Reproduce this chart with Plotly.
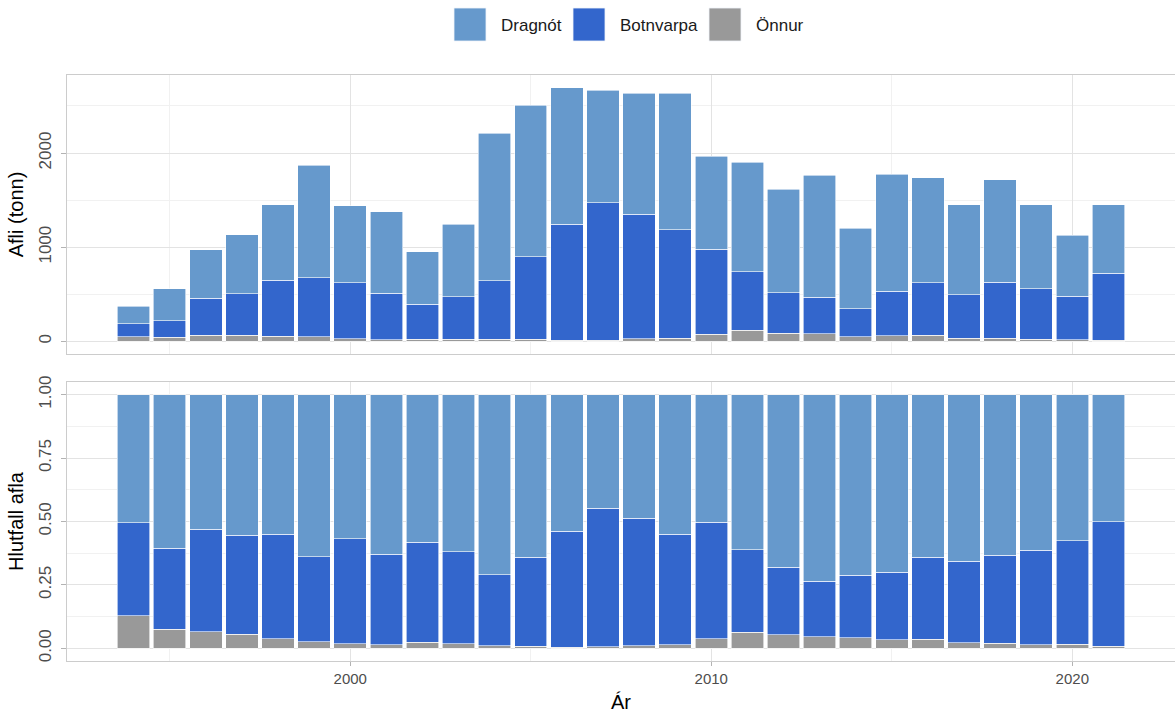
import plotly.graph_objects as go
from plotly.subplots import make_subplots

years = list(range(1994, 2022))
dragnot = [188, 337, 517, 627, 797, 1196, 818, 864, 553, 769, 1568, 1611, 1448, 1193,
           1285, 1448, 991, 1161, 1097, 1299, 855, 1243, 1115, 952, 1087, 889, 651, 726]
botnvarpa = [136, 177, 394, 443, 597, 625, 596, 491, 373, 451, 617, 879, 1232, 1459,
             1324, 1151, 902, 620, 431, 386, 296, 471, 561, 464, 596, 538, 460, 710]
onnur = [48, 42, 63, 63, 54, 48, 27, 19, 23, 23, 24, 20, 14, 14,
         28, 35, 75, 120, 86, 81, 49, 60, 62, 32, 34, 21, 18, 12]

series_names = ["Dragnót", "Botnvarpa", "Önnur"]
series_colors = ["#6699CC", "#3366CC", "#999999"]
series_values = [dragnot, botnvarpa, onnur]

totals = [a + b + c for a, b, c in zip(dragnot, botnvarpa, onnur)]

fig = make_subplots(rows=2, cols=1, shared_xaxes=True, vertical_spacing=0.0)

# stack bottom-up: Önnur, Botnvarpa, Dragnót
for name, color, vals in reversed(list(zip(series_names, series_colors, series_values))):
    fig.add_trace(go.Bar(x=years, y=vals, name=name, marker_color=color,
                         marker_line=dict(color="white", width=0.6), showlegend=False),
                  row=1, col=1)
    fracs = [v / t for v, t in zip(vals, totals)]
    fig.add_trace(go.Bar(x=years, y=fracs, name=name, marker_color=color,
                         marker_line=dict(color="white", width=0.6), showlegend=False),
                  row=2, col=1)

W, H = 1175, 715
ml, mr, mt, mb = 67, 0, 75, 54
pw = W - ml - mr
ph = H - mt - mb
top_dom = [1 - 279 / ph, 1]
bot_dom = [0, 279 / ph]

xmin = 1993.55 - 0.05 * (2021.45 - 1993.55)
xmax = 2021.45 + 0.05 * (2021.45 - 1993.55)
ymax_top = max(totals)

grid_major = "#E3E3E3"
grid_minor = "#F1F1F1"
border = "#CCCCCC"
tickfont_x = dict(family="Liberation Sans", size=15, color="#4D4D4D")
tickfont_y = dict(family="Liberation Sans", size=17, color="#4D4D4D")

common_x = dict(range=[xmin, xmax], tickvals=[2000, 2010, 2020], showgrid=True,
                gridcolor=grid_major, gridwidth=1,
                minor=dict(tickvals=[1995, 2005, 2015], showgrid=True, gridcolor=grid_minor, gridwidth=1),
                showline=True, mirror=True, linecolor=border, linewidth=1.2,
                zeroline=False)

fig.update_xaxes(**common_x, showticklabels=False, ticks="", row=1, col=1)
fig.update_xaxes(**common_x, showticklabels=True, ticks="outside", ticklen=4, tickcolor="#B3B3B3",
                 tickfont=tickfont_x,
                 title=dict(text="Ár", font=dict(family="Liberation Sans", size=20, color="#000000"), standoff=8),
                 row=2, col=1)

fig.update_yaxes(domain=top_dom, range=[-0.05 * ymax_top, 1.05 * ymax_top],
                 tickvals=[0, 1000, 2000], tickangle=-90,
                 showgrid=True, gridcolor=grid_major, gridwidth=1,
                 minor=dict(tickvals=[500, 1500, 2500], showgrid=True, gridcolor=grid_minor, gridwidth=1),
                 showline=True, mirror=True, linecolor=border, linewidth=1.2, zeroline=False,
                 ticks="outside", ticklen=5, tickcolor="#B3B3B3", tickfont=tickfont_y,
                 ticklabelstandoff=3,
                 title=dict(text="Afli (tonn)", font=dict(family="Liberation Sans", size=20, color="#000000"), standoff=7),
                 row=1, col=1)
fig.update_yaxes(domain=bot_dom, range=[-0.05, 1.05],
                 tickvals=[0, 0.25, 0.5, 0.75, 1.0], ticktext=["0.00", "0.25", "0.50", "0.75", "1.00"],
                 tickangle=-90,
                 showgrid=True, gridcolor=grid_major, gridwidth=1,
                 minor=dict(tickvals=[0.125, 0.375, 0.625, 0.875], showgrid=True, gridcolor=grid_minor, gridwidth=1),
                 showline=True, mirror=True, linecolor=border, linewidth=1.2, zeroline=False,
                 ticks="outside", ticklen=5, tickcolor="#B3B3B3", tickfont=tickfont_y,
                 ticklabelstandoff=3,
                 title=dict(text="Hlutfall afla", font=dict(family="Liberation Sans", size=20, color="#000000"), standoff=7),
                 row=2, col=1)

# custom legend (keys + labels) in paper coordinates above the plot
def px_x(p):
    return (p - ml) / pw

def px_y(p):
    return (H - mb - p) / ph

key_lefts = [454, 573, 709]
shapes = []
annotations = []
for name, color, kl in zip(series_names, series_colors, key_lefts):
    shapes.append(dict(type="rect", xref="paper", yref="paper",
                       x0=px_x(kl), x1=px_x(kl + 32), y0=px_y(41), y1=px_y(8),
                       fillcolor=color, line=dict(color="#F0F4FA", width=0.8), layer="above"))
    annotations.append(dict(xref="paper", yref="paper", x=px_x(kl + 45), y=px_y(25),
                            xanchor="left", yanchor="middle", showarrow=False, text=name,
                            font=dict(family="Liberation Sans", size=17, color="#1A1A1A")))

fig.update_layout(width=W, height=H, barmode="stack", bargap=0.1,
                  margin=dict(l=ml, r=mr, t=mt, b=mb, autoexpand=False),
                  plot_bgcolor="white", paper_bgcolor="white",
                  showlegend=False, shapes=shapes, annotations=annotations,
                  font=dict(family="Liberation Sans"))

fig.write_html("out.html", config={"displayModeBar": False},
               post_script="document.body.style.margin='0';document.body.style.overflow='hidden';")
